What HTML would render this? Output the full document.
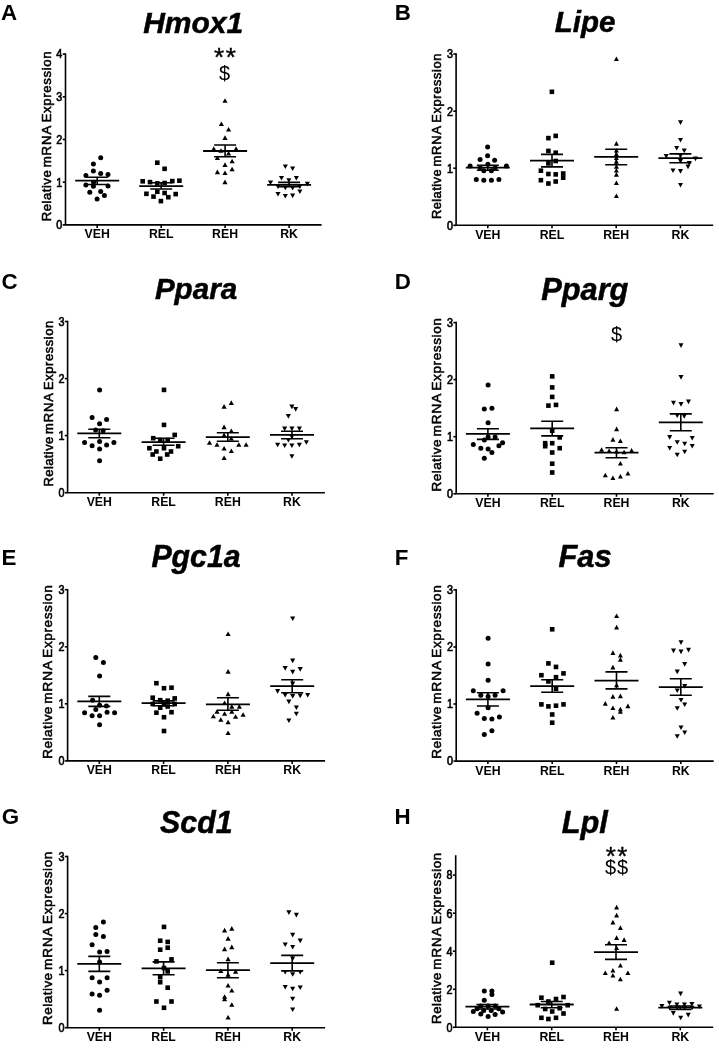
<!DOCTYPE html>
<html><head><meta charset="utf-8"><title>Figure</title>
<style>
html,body{margin:0;padding:0;background:#fff;}
body{width:719px;height:1050px;overflow:hidden;font-family:"Liberation Sans",sans-serif;}
svg{display:block;filter:grayscale(1);font-family:"Liberation Sans",sans-serif;}
.pl{font-size:21.7px;font-weight:bold;}
.tt{stroke:#000;stroke-width:0.5px;font-size:30px;font-weight:bold;font-style:italic;text-anchor:middle;}
.xl{font-size:12.3px;font-weight:bold;text-anchor:middle;}
.yl{font-size:13.3px;text-anchor:start;stroke:#000;stroke-width:0.55px;}
.tk{font-size:12px;text-anchor:end;stroke:#000;stroke-width:0.65px;}
.an{text-anchor:middle;}
.ax{stroke:#000;stroke-width:1.6;fill:none;}
.ml{stroke:#000;stroke-width:1.8;fill:none;}
.eb{stroke:#000;stroke-width:1.6;fill:none;}
</style></head><body>
<svg width="719" height="1050" viewBox="0 0 719 1050">
<rect width="719" height="1050" fill="#fff"/>
<g id="panelA">
<text class="pl" transform="translate(0.9,20.1) scale(1.03,1)">A</text>
<text class="tt" style="font-size:30px" transform="translate(193.2,32.8) scale(1,1.01)">Hmox1</text>
<path class="ax" d="M65.5 53.3V224.9H321.6"/>
<path class="ax" d="M62.7 224.9H65.5"/>
<text class="tk" transform="translate(62.3,229.2) scale(0.9,1)">0</text>
<path class="ax" d="M62.7 182.2H65.5"/>
<text class="tk" transform="translate(62.3,186.5) scale(0.9,1)">1</text>
<path class="ax" d="M62.7 139.5H65.5"/>
<text class="tk" transform="translate(62.3,143.8) scale(0.9,1)">2</text>
<path class="ax" d="M62.7 96.8H65.5"/>
<text class="tk" transform="translate(62.3,101.1) scale(0.9,1)">3</text>
<path class="ax" d="M62.7 54.1H65.5"/>
<text class="tk" transform="translate(62.3,58.4) scale(0.9,1)">4</text>
<path class="ax" d="M97.2 224.9v3"/>
<text class="xl" x="97.2" y="238.3">VEH</text>
<path class="ax" d="M161.2 224.9v3"/>
<text class="xl" x="161.2" y="238.3">REL</text>
<path class="ax" d="M225.1 224.9v3"/>
<text class="xl" x="225.1" y="238.3">REH</text>
<path class="ax" d="M289.1 224.9v3"/>
<text class="xl" x="289.1" y="238.3">RK</text>
<g class="yl" transform="translate(50.9,220.3) rotate(-90) scale(0.9953)"><text x="-0.9" textLength="51.2" lengthAdjust="spacing">Relative</text><text x="53.2" textLength="42.0" lengthAdjust="spacing">mRNA</text><text x="98.4" textLength="71.2" lengthAdjust="spacing">Expression</text></g>
<text class="an" style="font-size:26px;letter-spacing:1.5px;stroke:#000;stroke-width:0.4px" x="225.7" y="66.4">**</text>
<text class="an" style="font-size:20px;letter-spacing:0px;stroke:#000;stroke-width:0px" x="224.6" y="79.5">$</text>
<g><circle cx="100.7" cy="157.7" r="2.5"/><circle cx="93.4" cy="163.9" r="2.5"/><circle cx="93.4" cy="171.0" r="2.5"/><circle cx="100.7" cy="173.4" r="2.5"/><circle cx="108.0" cy="174.6" r="2.5"/><circle cx="85.9" cy="175.5" r="2.5"/><circle cx="85.9" cy="184.9" r="2.5"/><circle cx="93.6" cy="182.3" r="2.5"/><circle cx="93.4" cy="186.3" r="2.5"/><circle cx="108.0" cy="186.1" r="2.5"/><circle cx="89.8" cy="192.2" r="2.5"/><circle cx="100.7" cy="191.5" r="2.5"/><circle cx="104.4" cy="195.5" r="2.5"/><circle cx="97.1" cy="199.0" r="2.5"/></g>
<path class="ml" d="M75.2 180.7H119.2"/>
<path class="eb" d="M86.2 177.2H108.2M86.2 184.5H108.2M97.2 177.2V184.5"/>
<g><rect x="155.0" y="160.4" width="4.6" height="4.6"/><rect x="162.3" y="166.5" width="4.6" height="4.6"/><rect x="140.4" y="179.0" width="4.6" height="4.6"/><rect x="147.7" y="179.8" width="4.6" height="4.6"/><rect x="170.0" y="178.8" width="4.6" height="4.6"/><rect x="177.1" y="178.4" width="4.6" height="4.6"/><rect x="155.0" y="181.1" width="4.6" height="4.6"/><rect x="162.3" y="180.7" width="4.6" height="4.6"/><rect x="144.1" y="191.5" width="4.6" height="4.6"/><rect x="155.0" y="189.4" width="4.6" height="4.6"/><rect x="162.3" y="190.7" width="4.6" height="4.6"/><rect x="173.4" y="191.8" width="4.6" height="4.6"/><rect x="151.2" y="194.3" width="4.6" height="4.6"/><rect x="166.0" y="194.9" width="4.6" height="4.6"/><rect x="158.6" y="198.8" width="4.6" height="4.6"/></g>
<path class="ml" d="M139.2 186.1H183.2"/>
<path class="eb" d="M150.2 182.7H172.2M150.2 189H172.2M161.2 182.7V189"/>
<g><path d="M222.4 102.8L227.6 102.8L225.0 98.2Z"/><path d="M218.8 126.1L224.0 126.1L221.4 121.5Z"/><path d="M226.0 131.6L231.2 131.6L228.6 127.0Z"/><path d="M222.4 139.9L227.6 139.9L225.0 135.3Z"/><path d="M211.2 150.9L216.4 150.9L213.8 146.3Z"/><path d="M233.5 150.9L238.7 150.9L236.1 146.3Z"/><path d="M218.4 152.8L223.6 152.8L221.0 148.2Z"/><path d="M226.0 155.6L231.2 155.6L228.6 151.0Z"/><path d="M214.8 160.1L220.0 160.1L217.4 155.5Z"/><path d="M229.5 163.3L234.7 163.3L232.1 158.7Z"/><path d="M222.4 166.9L227.6 166.9L225.0 162.3Z"/><path d="M229.5 171.3L234.7 171.3L232.1 166.7Z"/><path d="M214.8 174.2L220.0 174.2L217.4 169.6Z"/><path d="M222.4 175.0L227.6 175.0L225.0 170.4Z"/><path d="M222.4 184.2L227.6 184.2L225.0 179.6Z"/></g>
<path class="ml" d="M203.1 151H247.1"/>
<path class="eb" d="M214.1 145H236.1M214.1 156.7H236.1M225.1 145V156.7"/>
<g><path d="M282.8 164.4L287.9 164.4L285.3 169.0Z"/><path d="M290.1 166.5L295.2 166.5L292.6 171.1Z"/><path d="M278.9 175.9L284.1 175.9L281.5 180.5Z"/><path d="M293.8 175.9L298.9 175.9L296.3 180.5Z"/><path d="M286.3 178.2L291.4 178.2L288.9 182.8Z"/><path d="M267.9 180.4L273.1 180.4L270.5 185.0Z"/><path d="M304.8 181.8L309.9 181.8L307.4 186.4Z"/><path d="M275.4 184.4L280.6 184.4L278.0 189.0Z"/><path d="M282.8 185.7L287.9 185.7L285.3 190.3Z"/><path d="M290.1 185.9L295.2 185.9L292.6 190.5Z"/><path d="M297.3 184.4L302.4 184.4L299.9 189.0Z"/><path d="M297.3 189.4L302.4 189.4L299.9 194.0Z"/><path d="M275.4 191.9L280.6 191.9L278.0 196.5Z"/><path d="M282.8 194.0L287.9 194.0L285.3 198.6Z"/><path d="M290.1 193.6L295.2 193.6L292.6 198.2Z"/></g>
<path class="ml" d="M267.1 184.9H311.1"/>
<path class="eb" d="M278.1 182.4H300.1M278.1 186.6H300.1M289.1 182.4V186.6"/>
</g>
<g id="panelB">
<text class="pl" transform="translate(394.7,20.2) scale(1.03,1)">B</text>
<text class="tt" style="font-size:29.5px" transform="translate(585,32.3) scale(1,1.01)">Lipe</text>
<path class="ax" d="M456.1 53.3V225.3H713.2"/>
<path class="ax" d="M453.3 225.3H456.1"/>
<text class="tk" transform="translate(452.9,229.6) scale(0.9,1)">0</text>
<path class="ax" d="M453.3 168.2H456.1"/>
<text class="tk" transform="translate(452.9,172.5) scale(0.9,1)">1</text>
<path class="ax" d="M453.3 111.2H456.1"/>
<text class="tk" transform="translate(452.9,115.5) scale(0.9,1)">2</text>
<path class="ax" d="M453.3 54.1H456.1"/>
<text class="tk" transform="translate(452.9,58.4) scale(0.9,1)">3</text>
<path class="ax" d="M487.8 225.3v3"/>
<text class="xl" x="487.8" y="238.7">VEH</text>
<path class="ax" d="M552.0 225.3v3"/>
<text class="xl" x="552.0" y="238.7">REL</text>
<path class="ax" d="M616.2 225.3v3"/>
<text class="xl" x="616.2" y="238.7">REH</text>
<path class="ax" d="M680.4 225.3v3"/>
<text class="xl" x="680.4" y="238.7">RK</text>
<g class="yl" transform="translate(441.4,218.2) rotate(-90) scale(0.9705)"><text x="-0.9" textLength="51.2" lengthAdjust="spacing">Relative</text><text x="53.2" textLength="42.0" lengthAdjust="spacing">mRNA</text><text x="98.4" textLength="71.2" lengthAdjust="spacing">Expression</text></g>
<g><circle cx="487.6" cy="146.9" r="2.5"/><circle cx="487.6" cy="155.7" r="2.5"/><circle cx="480.1" cy="159.4" r="2.5"/><circle cx="494.6" cy="160.2" r="2.5"/><circle cx="470.1" cy="165.9" r="2.5"/><circle cx="506.4" cy="165.9" r="2.5"/><circle cx="487.9" cy="164.2" r="2.5"/><circle cx="480.1" cy="167.7" r="2.5"/><circle cx="495.1" cy="167.7" r="2.5"/><circle cx="483.8" cy="170.7" r="2.5"/><circle cx="491.4" cy="170.7" r="2.5"/><circle cx="476.3" cy="179.5" r="2.5"/><circle cx="483.8" cy="180.2" r="2.5"/><circle cx="491.4" cy="180.2" r="2.5"/><circle cx="498.9" cy="179.5" r="2.5"/></g>
<path class="ml" d="M465.8 167.7H509.8"/>
<path class="eb" d="M476.8 165.2H498.8M476.8 170.2H498.8M487.8 165.2V170.2"/>
<g><rect x="549.6" y="89.5" width="4.6" height="4.6"/><rect x="546.1" y="135.8" width="4.6" height="4.6"/><rect x="553.4" y="133.6" width="4.6" height="4.6"/><rect x="546.1" y="148.6" width="4.6" height="4.6"/><rect x="553.4" y="150.4" width="4.6" height="4.6"/><rect x="553.4" y="158.7" width="4.6" height="4.6"/><rect x="546.1" y="161.1" width="4.6" height="4.6"/><rect x="538.6" y="168.4" width="4.6" height="4.6"/><rect x="546.1" y="171.7" width="4.6" height="4.6"/><rect x="553.4" y="172.1" width="4.6" height="4.6"/><rect x="560.9" y="171.2" width="4.6" height="4.6"/><rect x="560.9" y="175.4" width="4.6" height="4.6"/><rect x="538.6" y="177.9" width="4.6" height="4.6"/><rect x="553.4" y="179.2" width="4.6" height="4.6"/><rect x="546.1" y="181.2" width="4.6" height="4.6"/></g>
<path class="ml" d="M530.0 160.7H574.0"/>
<path class="eb" d="M541.0 154.4H563.0M541.0 166.9H563.0M552.0 154.4V166.9"/>
<g><path d="M613.9 61.1L618.9 61.1L616.4 56.5Z"/><path d="M613.9 145.7L618.9 145.7L616.4 141.1Z"/><path d="M613.9 152.5L618.9 152.5L616.4 147.9Z"/><path d="M613.9 156.2L618.9 156.2L616.4 151.6Z"/><path d="M613.9 160.0L618.9 160.0L616.4 155.4Z"/><path d="M613.9 163.7L618.9 163.7L616.4 159.1Z"/><path d="M613.9 168.7L618.9 168.7L616.4 164.1Z"/><path d="M613.9 172.5L618.9 172.5L616.4 167.9Z"/><path d="M613.9 176.7L618.9 176.7L616.4 172.1Z"/><path d="M613.9 185.0L618.9 185.0L616.4 180.4Z"/><path d="M613.9 198.0L618.9 198.0L616.4 193.4Z"/></g>
<path class="ml" d="M594.2 156.9H638.2"/>
<path class="eb" d="M605.2 149.2H627.2M605.2 164.7H627.2M616.2 149.2V164.7"/>
<g><path d="M678.0 120.3L683.0 120.3L680.5 124.9Z"/><path d="M678.0 137.9L683.0 137.9L680.5 142.5Z"/><path d="M674.2 145.9L679.2 145.9L676.7 150.5Z"/><path d="M681.7 148.6L686.8 148.6L684.2 153.2Z"/><path d="M663.7 154.1L668.8 154.1L666.2 158.7Z"/><path d="M678.0 153.4L683.0 153.4L680.5 158.0Z"/><path d="M693.0 156.6L698.0 156.6L695.5 161.2Z"/><path d="M678.0 159.1L683.0 159.1L680.5 163.7Z"/><path d="M686.7 161.1L691.8 161.1L689.2 165.7Z"/><path d="M685.5 164.6L690.5 164.6L688.0 169.2Z"/><path d="M670.5 168.4L675.5 168.4L673.0 173.0Z"/><path d="M678.0 169.1L683.0 169.1L680.5 173.7Z"/><path d="M678.0 182.9L683.0 182.9L680.5 187.5Z"/></g>
<path class="ml" d="M658.4 158.2H702.4"/>
<path class="eb" d="M669.4 153.9H691.4M669.4 162.7H691.4M680.4 153.9V162.7"/>
</g>
<g id="panelC">
<text class="pl" transform="translate(1.4,288.7) scale(1.03,1)">C</text>
<text class="tt" style="font-size:29.6px" transform="translate(196,299.2) scale(1,1.01)">Ppara</text>
<path class="ax" d="M67.6 320.7V492.7H324.9"/>
<path class="ax" d="M64.8 492.7H67.6"/>
<text class="tk" transform="translate(64.4,497.0) scale(0.9,1)">0</text>
<path class="ax" d="M64.8 435.6H67.6"/>
<text class="tk" transform="translate(64.4,439.9) scale(0.9,1)">1</text>
<path class="ax" d="M64.8 378.6H67.6"/>
<text class="tk" transform="translate(64.4,382.9) scale(0.9,1)">2</text>
<path class="ax" d="M64.8 321.5H67.6"/>
<text class="tk" transform="translate(64.4,325.8) scale(0.9,1)">3</text>
<path class="ax" d="M99.3 492.7v3"/>
<text class="xl" x="99.3" y="506.1">VEH</text>
<path class="ax" d="M163.6 492.7v3"/>
<text class="xl" x="163.6" y="506.1">REL</text>
<path class="ax" d="M227.8 492.7v3"/>
<text class="xl" x="227.8" y="506.1">REH</text>
<path class="ax" d="M292.0 492.7v3"/>
<text class="xl" x="292.0" y="506.1">RK</text>
<g class="yl" transform="translate(52.7,485.6) rotate(-90) scale(0.9716)"><text x="-0.9" textLength="51.2" lengthAdjust="spacing">Relative</text><text x="53.2" textLength="42.0" lengthAdjust="spacing">mRNA</text><text x="98.4" textLength="71.2" lengthAdjust="spacing">Expression</text></g>
<g><circle cx="99.6" cy="389.9" r="2.5"/><circle cx="92.1" cy="417.4" r="2.5"/><circle cx="106.6" cy="419.4" r="2.5"/><circle cx="99.6" cy="423.7" r="2.5"/><circle cx="95.6" cy="429.9" r="2.5"/><circle cx="103.1" cy="430.7" r="2.5"/><circle cx="84.6" cy="442.5" r="2.5"/><circle cx="99.6" cy="441.5" r="2.5"/><circle cx="113.9" cy="442.5" r="2.5"/><circle cx="92.1" cy="445.7" r="2.5"/><circle cx="106.6" cy="445.0" r="2.5"/><circle cx="99.6" cy="449.0" r="2.5"/><circle cx="99.6" cy="460.7" r="2.5"/></g>
<path class="ml" d="M77.3 433.4H121.3"/>
<path class="eb" d="M88.3 429.2H110.3M88.3 437.7H110.3M99.3 429.2V437.7"/>
<g><rect x="161.7" y="387.6" width="4.6" height="4.6"/><rect x="161.7" y="422.6" width="4.6" height="4.6"/><rect x="172.4" y="432.6" width="4.6" height="4.6"/><rect x="150.9" y="435.9" width="4.6" height="4.6"/><rect x="157.9" y="437.7" width="4.6" height="4.6"/><rect x="165.4" y="437.7" width="4.6" height="4.6"/><rect x="175.9" y="443.9" width="4.6" height="4.6"/><rect x="147.1" y="445.9" width="4.6" height="4.6"/><rect x="161.7" y="445.9" width="4.6" height="4.6"/><rect x="154.1" y="449.2" width="4.6" height="4.6"/><rect x="168.7" y="449.2" width="4.6" height="4.6"/><rect x="150.4" y="452.2" width="4.6" height="4.6"/><rect x="164.9" y="452.2" width="4.6" height="4.6"/><rect x="157.9" y="456.4" width="4.6" height="4.6"/></g>
<path class="ml" d="M141.6 442.2H185.6"/>
<path class="eb" d="M152.6 438.2H174.6M152.6 445.2H174.6M163.6 438.2V445.2"/>
<g><path d="M228.8 404.9L233.9 404.9L231.3 400.3Z"/><path d="M221.5 408.7L226.7 408.7L224.1 404.1Z"/><path d="M221.5 429.2L226.7 429.2L224.1 424.6Z"/><path d="M228.8 433.0L233.9 433.0L231.3 428.4Z"/><path d="M221.5 437.2L226.7 437.2L224.1 432.6Z"/><path d="M228.8 440.5L233.9 440.5L231.3 435.9Z"/><path d="M206.9 444.8L212.1 444.8L209.5 440.2Z"/><path d="M214.4 446.8L219.6 446.8L217.0 442.2Z"/><path d="M236.2 446.8L241.4 446.8L238.8 442.2Z"/><path d="M243.5 446.8L248.7 446.8L246.1 442.2Z"/><path d="M221.5 450.5L226.7 450.5L224.1 445.9Z"/><path d="M228.8 453.0L233.9 453.0L231.3 448.4Z"/><path d="M221.5 460.0L226.7 460.0L224.1 455.4Z"/></g>
<path class="ml" d="M205.8 437.2H249.8"/>
<path class="eb" d="M216.8 432.7H238.8M216.8 441.2H238.8M227.8 432.7V441.2"/>
<g><path d="M289.3 404.6L294.4 404.6L291.9 409.2Z"/><path d="M293.1 407.1L298.2 407.1L295.7 411.7Z"/><path d="M285.8 414.1L290.9 414.1L288.4 418.7Z"/><path d="M282.1 426.6L287.2 426.6L284.7 431.2Z"/><path d="M289.3 426.6L294.4 426.6L291.9 431.2Z"/><path d="M296.8 426.6L301.9 426.6L299.4 431.2Z"/><path d="M289.3 434.6L294.4 434.6L291.9 439.2Z"/><path d="M285.8 437.9L290.9 437.9L288.4 442.5Z"/><path d="M303.8 440.2L308.9 440.2L306.4 444.8Z"/><path d="M275.1 442.7L280.2 442.7L277.6 447.3Z"/><path d="M282.1 443.4L287.2 443.4L284.7 448.0Z"/><path d="M289.3 443.4L294.4 443.4L291.9 448.0Z"/><path d="M296.8 442.7L301.9 442.7L299.4 447.3Z"/><path d="M289.3 454.2L294.4 454.2L291.9 458.8Z"/></g>
<path class="ml" d="M270.0 434.9H314.0"/>
<path class="eb" d="M281.0 431.2H303.0M281.0 438.7H303.0M292.0 431.2V438.7"/>
</g>
<g id="panelD">
<text class="pl" transform="translate(394.7,288.9) scale(1.03,1)">D</text>
<text class="tt" style="font-size:30.8px" transform="translate(584.8,299.7) scale(1,1.01)">Pparg</text>
<path class="ax" d="M456.2 321.8V493.75H713.7"/>
<path class="ax" d="M453.4 493.8H456.2"/>
<text class="tk" transform="translate(453.0,498.1) scale(0.9,1)">0</text>
<path class="ax" d="M453.4 436.7H456.2"/>
<text class="tk" transform="translate(453.0,441.0) scale(0.9,1)">1</text>
<path class="ax" d="M453.4 379.6H456.2"/>
<text class="tk" transform="translate(453.0,383.9) scale(0.9,1)">2</text>
<path class="ax" d="M453.4 322.6H456.2"/>
<text class="tk" transform="translate(453.0,326.9) scale(0.9,1)">3</text>
<path class="ax" d="M487.9 493.75v3"/>
<text class="xl" x="487.9" y="507.1">VEH</text>
<path class="ax" d="M552.2 493.75v3"/>
<text class="xl" x="552.2" y="507.1">REL</text>
<path class="ax" d="M616.5 493.75v3"/>
<text class="xl" x="616.5" y="507.1">REH</text>
<path class="ax" d="M680.8 493.75v3"/>
<text class="xl" x="680.8" y="507.1">RK</text>
<g class="yl" transform="translate(440.8,490.6) rotate(-90) scale(1.0171)"><text x="-0.9" textLength="51.2" lengthAdjust="spacing">Relative</text><text x="53.2" textLength="42.0" lengthAdjust="spacing">mRNA</text><text x="98.4" textLength="71.2" lengthAdjust="spacing">Expression</text></g>
<text class="an" style="font-size:20px;letter-spacing:0px;stroke:#000;stroke-width:0px" x="616.6" y="340.6">$</text>
<g><circle cx="488.1" cy="384.9" r="2.5"/><circle cx="484.3" cy="408.9" r="2.5"/><circle cx="491.9" cy="408.2" r="2.5"/><circle cx="488.1" cy="422.7" r="2.5"/><circle cx="488.1" cy="436.9" r="2.5"/><circle cx="495.1" cy="436.9" r="2.5"/><circle cx="484.3" cy="440.0" r="2.5"/><circle cx="473.3" cy="444.5" r="2.5"/><circle cx="502.6" cy="442.7" r="2.5"/><circle cx="498.9" cy="445.7" r="2.5"/><circle cx="480.8" cy="448.2" r="2.5"/><circle cx="488.1" cy="449.0" r="2.5"/><circle cx="491.9" cy="452.5" r="2.5"/><circle cx="484.3" cy="458.2" r="2.5"/></g>
<path class="ml" d="M465.9 433.9H509.9"/>
<path class="eb" d="M476.9 428.7H498.9M476.9 439.4H498.9M487.9 428.7V439.4"/>
<g><rect x="549.9" y="374.1" width="4.6" height="4.6"/><rect x="549.9" y="385.1" width="4.6" height="4.6"/><rect x="549.9" y="394.6" width="4.6" height="4.6"/><rect x="546.1" y="403.3" width="4.6" height="4.6"/><rect x="553.7" y="402.6" width="4.6" height="4.6"/><rect x="549.9" y="428.4" width="4.6" height="4.6"/><rect x="557.4" y="435.1" width="4.6" height="4.6"/><rect x="542.9" y="440.9" width="4.6" height="4.6"/><rect x="549.9" y="440.9" width="4.6" height="4.6"/><rect x="542.9" y="443.9" width="4.6" height="4.6"/><rect x="557.4" y="445.9" width="4.6" height="4.6"/><rect x="549.9" y="450.2" width="4.6" height="4.6"/><rect x="549.9" y="461.4" width="4.6" height="4.6"/><rect x="549.9" y="470.2" width="4.6" height="4.6"/></g>
<path class="ml" d="M530.2 428.4H574.2"/>
<path class="eb" d="M541.2 421.2H563.2M541.2 435.9H563.2M552.2 421.2V435.9"/>
<g><path d="M614.1 411.2L619.1 411.2L616.6 406.6Z"/><path d="M614.1 431.2L619.1 431.2L616.6 426.6Z"/><path d="M610.4 441.7L615.4 441.7L612.9 437.1Z"/><path d="M617.9 443.0L622.9 443.0L620.4 438.4Z"/><path d="M599.1 451.8L604.1 451.8L601.6 447.2Z"/><path d="M629.1 452.5L634.1 452.5L631.6 447.9Z"/><path d="M606.6 453.0L611.6 453.0L609.1 448.4Z"/><path d="M614.1 453.5L619.1 453.5L616.6 448.9Z"/><path d="M621.6 454.3L626.6 454.3L624.1 449.7Z"/><path d="M617.9 465.5L622.9 465.5L620.4 460.9Z"/><path d="M625.4 475.5L630.4 475.5L627.9 470.9Z"/><path d="M602.8 477.3L607.8 477.3L605.3 472.7Z"/><path d="M617.9 478.5L622.9 478.5L620.4 473.9Z"/><path d="M610.4 480.0L615.4 480.0L612.9 475.4Z"/></g>
<path class="ml" d="M594.5 452.7H638.5"/>
<path class="eb" d="M605.5 447.7H627.5M605.5 457.7H627.5M616.5 447.7V457.7"/>
<g><path d="M678.5 343.3L683.5 343.3L681.0 347.9Z"/><path d="M678.5 375.1L683.5 375.1L681.0 379.7Z"/><path d="M671.0 400.8L676.0 400.8L673.5 405.4Z"/><path d="M678.5 402.1L683.5 402.1L681.0 406.7Z"/><path d="M686.0 399.6L691.0 399.6L688.5 404.2Z"/><path d="M674.7 413.4L679.8 413.4L677.2 418.0Z"/><path d="M681.7 414.1L686.8 414.1L684.2 418.7Z"/><path d="M667.2 435.1L672.2 435.1L669.7 439.7Z"/><path d="M689.7 435.9L694.8 435.9L692.2 440.5Z"/><path d="M674.7 440.2L679.8 440.2L677.2 444.8Z"/><path d="M682.2 441.7L687.2 441.7L684.7 446.3Z"/><path d="M689.7 443.9L694.8 443.9L692.2 448.5Z"/><path d="M667.2 445.9L672.2 445.9L669.7 450.5Z"/><path d="M682.2 449.7L687.2 449.7L684.7 454.3Z"/><path d="M674.7 452.7L679.8 452.7L677.2 457.3Z"/></g>
<path class="ml" d="M658.8 422.4H702.8"/>
<path class="eb" d="M669.8 413.9H691.8M669.8 430.7H691.8M680.8 413.9V430.7"/>
</g>
<g id="panelE">
<text class="pl" transform="translate(1.6,565.1) scale(1.03,1)">E</text>
<text class="tt" style="font-size:30.3px" transform="translate(196,567) scale(1,1.01)">Pgc1a</text>
<path class="ax" d="M67.6 588.9V760.9H325.1"/>
<path class="ax" d="M64.8 760.9H67.6"/>
<text class="tk" transform="translate(64.4,765.2) scale(0.9,1)">0</text>
<path class="ax" d="M64.8 703.8H67.6"/>
<text class="tk" transform="translate(64.4,708.1) scale(0.9,1)">1</text>
<path class="ax" d="M64.8 646.8H67.6"/>
<text class="tk" transform="translate(64.4,651.1) scale(0.9,1)">2</text>
<path class="ax" d="M64.8 589.7H67.6"/>
<text class="tk" transform="translate(64.4,594.0) scale(0.9,1)">3</text>
<path class="ax" d="M99.3 760.9v3"/>
<text class="xl" x="99.3" y="774.3">VEH</text>
<path class="ax" d="M163.6 760.9v3"/>
<text class="xl" x="163.6" y="774.3">REL</text>
<path class="ax" d="M227.9 760.9v3"/>
<text class="xl" x="227.9" y="774.3">REH</text>
<path class="ax" d="M292.2 760.9v3"/>
<text class="xl" x="292.2" y="774.3">RK</text>
<g class="yl" transform="translate(52.4,757.8) rotate(-90) scale(1.0177)"><text x="-0.9" textLength="51.2" lengthAdjust="spacing">Relative</text><text x="53.2" textLength="42.0" lengthAdjust="spacing">mRNA</text><text x="98.4" textLength="71.2" lengthAdjust="spacing">Expression</text></g>
<g><circle cx="95.8" cy="657.6" r="2.5"/><circle cx="103.4" cy="662.6" r="2.5"/><circle cx="99.6" cy="675.9" r="2.5"/><circle cx="92.6" cy="700.2" r="2.5"/><circle cx="99.6" cy="705.2" r="2.5"/><circle cx="106.4" cy="706.0" r="2.5"/><circle cx="95.8" cy="709.5" r="2.5"/><circle cx="84.6" cy="712.7" r="2.5"/><circle cx="107.1" cy="712.2" r="2.5"/><circle cx="114.6" cy="712.7" r="2.5"/><circle cx="92.1" cy="715.7" r="2.5"/><circle cx="99.6" cy="715.7" r="2.5"/><circle cx="99.6" cy="724.7" r="2.5"/></g>
<path class="ml" d="M77.3 701.4H121.3"/>
<path class="eb" d="M88.3 696.4H110.3M88.3 706.4H110.3M99.3 696.4V706.4"/>
<g><rect x="154.1" y="680.9" width="4.6" height="4.6"/><rect x="161.7" y="685.9" width="4.6" height="4.6"/><rect x="169.2" y="685.4" width="4.6" height="4.6"/><rect x="150.4" y="695.4" width="4.6" height="4.6"/><rect x="172.4" y="696.1" width="4.6" height="4.6"/><rect x="157.9" y="697.9" width="4.6" height="4.6"/><rect x="165.4" y="698.4" width="4.6" height="4.6"/><rect x="150.4" y="701.7" width="4.6" height="4.6"/><rect x="161.7" y="702.1" width="4.6" height="4.6"/><rect x="172.4" y="701.7" width="4.6" height="4.6"/><rect x="157.9" y="705.4" width="4.6" height="4.6"/><rect x="165.4" y="704.2" width="4.6" height="4.6"/><rect x="154.1" y="710.4" width="4.6" height="4.6"/><rect x="169.2" y="709.9" width="4.6" height="4.6"/><rect x="161.7" y="714.9" width="4.6" height="4.6"/><rect x="161.7" y="728.7" width="4.6" height="4.6"/></g>
<path class="ml" d="M141.6 703.2H185.6"/>
<path class="eb" d="M152.6 700.9H174.6M152.6 705.7H174.6M163.6 700.9V705.7"/>
<g><path d="M225.5 636.1L230.7 636.1L228.1 631.5Z"/><path d="M225.5 673.7L230.7 673.7L228.1 669.1Z"/><path d="M225.5 696.2L230.7 696.2L228.1 691.6Z"/><path d="M222.0 705.0L227.2 705.0L224.6 700.4Z"/><path d="M229.2 708.7L234.4 708.7L231.8 704.1Z"/><path d="M236.8 708.7L241.9 708.7L239.3 704.1Z"/><path d="M214.4 713.8L219.6 713.8L217.0 709.2Z"/><path d="M222.0 715.8L227.2 715.8L224.6 711.2Z"/><path d="M229.2 713.8L234.4 713.8L231.8 709.2Z"/><path d="M240.5 716.8L245.7 716.8L243.1 712.2Z"/><path d="M210.8 718.3L215.9 718.3L213.3 713.7Z"/><path d="M233.0 718.8L238.2 718.8L235.6 714.2Z"/><path d="M218.2 721.8L223.4 721.8L220.8 717.2Z"/><path d="M225.5 724.3L230.7 724.3L228.1 719.7Z"/><path d="M225.5 735.0L230.7 735.0L228.1 730.4Z"/></g>
<path class="ml" d="M205.9 704.4H249.9"/>
<path class="eb" d="M216.9 697.7H238.9M216.9 710.2H238.9M227.9 697.7V710.2"/>
<g><path d="M290.1 616.5L295.2 616.5L292.7 621.1Z"/><path d="M290.1 658.6L295.2 658.6L292.7 663.2Z"/><path d="M282.6 666.1L287.8 666.1L285.2 670.7Z"/><path d="M297.6 667.1L302.8 667.1L300.2 671.7Z"/><path d="M290.1 669.8L295.2 669.8L292.7 674.4Z"/><path d="M290.1 681.6L295.2 681.6L292.7 686.2Z"/><path d="M275.1 689.1L280.2 689.1L277.6 693.7Z"/><path d="M282.6 692.9L287.8 692.9L285.2 697.5Z"/><path d="M290.1 694.1L295.2 694.1L292.7 698.7Z"/><path d="M297.6 693.6L302.8 693.6L300.2 698.2Z"/><path d="M305.1 692.9L310.2 692.9L307.7 697.5Z"/><path d="M286.3 699.6L291.4 699.6L288.9 704.2Z"/><path d="M293.8 705.4L298.9 705.4L296.4 710.0Z"/><path d="M293.8 711.7L298.9 711.7L296.4 716.3Z"/><path d="M286.3 718.4L291.4 718.4L288.9 723.0Z"/></g>
<path class="ml" d="M270.2 686.2H314.2"/>
<path class="eb" d="M281.2 679.7H303.2M281.2 692.7H303.2M292.2 679.7V692.7"/>
</g>
<g id="panelF">
<text class="pl" transform="translate(394.7,565.1) scale(1.03,1)">F</text>
<text class="tt" style="font-size:30.8px" transform="translate(585,567) scale(1,1.01)">Fas</text>
<path class="ax" d="M456.2 589.1V761.1H713.7"/>
<path class="ax" d="M453.4 761.1H456.2"/>
<text class="tk" transform="translate(453.0,765.4) scale(0.9,1)">0</text>
<path class="ax" d="M453.4 704.0H456.2"/>
<text class="tk" transform="translate(453.0,708.3) scale(0.9,1)">1</text>
<path class="ax" d="M453.4 647.0H456.2"/>
<text class="tk" transform="translate(453.0,651.3) scale(0.9,1)">2</text>
<path class="ax" d="M453.4 589.9H456.2"/>
<text class="tk" transform="translate(453.0,594.2) scale(0.9,1)">3</text>
<path class="ax" d="M487.9 761.1v3"/>
<text class="xl" x="487.9" y="774.5">VEH</text>
<path class="ax" d="M552.2 761.1v3"/>
<text class="xl" x="552.2" y="774.5">REL</text>
<path class="ax" d="M616.5 761.1v3"/>
<text class="xl" x="616.5" y="774.5">REH</text>
<path class="ax" d="M680.8 761.1v3"/>
<text class="xl" x="680.8" y="774.5">RK</text>
<g class="yl" transform="translate(440.8,757.8) rotate(-90) scale(1.0177)"><text x="-0.9" textLength="51.2" lengthAdjust="spacing">Relative</text><text x="53.2" textLength="42.0" lengthAdjust="spacing">mRNA</text><text x="98.4" textLength="71.2" lengthAdjust="spacing">Expression</text></g>
<g><circle cx="488.1" cy="638.3" r="2.5"/><circle cx="488.1" cy="663.9" r="2.5"/><circle cx="488.1" cy="680.2" r="2.5"/><circle cx="473.3" cy="690.7" r="2.5"/><circle cx="503.1" cy="690.7" r="2.5"/><circle cx="480.8" cy="695.2" r="2.5"/><circle cx="488.1" cy="696.4" r="2.5"/><circle cx="495.1" cy="695.2" r="2.5"/><circle cx="488.1" cy="707.7" r="2.5"/><circle cx="477.1" cy="713.2" r="2.5"/><circle cx="499.4" cy="717.0" r="2.5"/><circle cx="484.3" cy="718.5" r="2.5"/><circle cx="491.9" cy="719.0" r="2.5"/><circle cx="491.9" cy="730.7" r="2.5"/><circle cx="484.3" cy="734.5" r="2.5"/></g>
<path class="ml" d="M465.9 699.4H509.9"/>
<path class="eb" d="M476.9 692.7H498.9M476.9 706H498.9M487.9 692.7V706"/>
<g><rect x="549.9" y="627.0" width="4.6" height="4.6"/><rect x="546.1" y="661.1" width="4.6" height="4.6"/><rect x="553.7" y="664.6" width="4.6" height="4.6"/><rect x="539.1" y="672.9" width="4.6" height="4.6"/><rect x="561.2" y="671.1" width="4.6" height="4.6"/><rect x="553.7" y="674.9" width="4.6" height="4.6"/><rect x="546.1" y="679.1" width="4.6" height="4.6"/><rect x="553.7" y="686.6" width="4.6" height="4.6"/><rect x="539.1" y="702.1" width="4.6" height="4.6"/><rect x="561.2" y="702.1" width="4.6" height="4.6"/><rect x="546.1" y="704.1" width="4.6" height="4.6"/><rect x="553.7" y="703.4" width="4.6" height="4.6"/><rect x="549.9" y="712.2" width="4.6" height="4.6"/><rect x="549.9" y="720.4" width="4.6" height="4.6"/></g>
<path class="ml" d="M530.2 686.2H574.2"/>
<path class="eb" d="M541.2 679.7H563.2M541.2 692.2H563.2M552.2 679.7V692.2"/>
<g><path d="M614.1 618.1L619.1 618.1L616.6 613.5Z"/><path d="M614.1 629.4L619.1 629.4L616.6 624.8Z"/><path d="M610.4 654.9L615.4 654.9L612.9 650.3Z"/><path d="M617.9 657.4L622.9 657.4L620.4 652.8Z"/><path d="M617.9 661.7L622.9 661.7L620.4 657.1Z"/><path d="M610.4 669.4L615.4 669.4L612.9 664.8Z"/><path d="M614.1 687.3L619.1 687.3L616.6 682.7Z"/><path d="M610.4 698.7L615.4 698.7L612.9 694.1Z"/><path d="M617.9 698.2L622.9 698.2L620.4 693.6Z"/><path d="M602.8 705.7L607.8 705.7L605.3 701.1Z"/><path d="M625.4 708.2L630.4 708.2L627.9 703.6Z"/><path d="M610.4 710.0L615.4 710.0L612.9 705.4Z"/><path d="M617.9 711.3L622.9 711.3L620.4 706.7Z"/><path d="M617.9 713.8L622.9 713.8L620.4 709.2Z"/><path d="M610.4 719.5L615.4 719.5L612.9 714.9Z"/></g>
<path class="ml" d="M594.5 680.7H638.5"/>
<path class="eb" d="M605.5 671.9H627.5M605.5 688.9H627.5M616.5 671.9V688.9"/>
<g><path d="M678.5 640.3L683.5 640.3L681.0 644.9Z"/><path d="M671.0 648.6L676.0 648.6L673.5 653.2Z"/><path d="M678.5 649.6L683.5 649.6L681.0 654.2Z"/><path d="M686.0 647.8L691.0 647.8L688.5 652.4Z"/><path d="M682.2 662.1L687.2 662.1L684.7 666.7Z"/><path d="M674.7 669.6L679.8 669.6L677.2 674.2Z"/><path d="M682.2 684.1L687.2 684.1L684.7 688.7Z"/><path d="M674.7 688.4L679.8 688.4L677.2 693.0Z"/><path d="M678.5 697.9L683.5 697.9L681.0 702.5Z"/><path d="M682.2 702.4L687.2 702.4L684.7 707.0Z"/><path d="M674.7 706.2L679.8 706.2L677.2 710.8Z"/><path d="M678.5 725.4L683.5 725.4L681.0 730.0Z"/><path d="M682.2 730.4L687.2 730.4L684.7 735.0Z"/><path d="M674.7 734.2L679.8 734.2L677.2 738.8Z"/></g>
<path class="ml" d="M658.8 687.2H702.8"/>
<path class="eb" d="M669.8 678.7H691.8M669.8 695.2H691.8M680.8 678.7V695.2"/>
</g>
<g id="panelG">
<text class="pl" transform="translate(1.7,824.3) scale(1.03,1)">G</text>
<text class="tt" style="font-size:30.3px" transform="translate(196.3,833.1) scale(1,1.01)">Scd1</text>
<path class="ax" d="M67.6 855.7V1027.7H325.1"/>
<path class="ax" d="M64.8 1027.7H67.6"/>
<text class="tk" transform="translate(64.4,1032.0) scale(0.9,1)">0</text>
<path class="ax" d="M64.8 970.6H67.6"/>
<text class="tk" transform="translate(64.4,974.9) scale(0.9,1)">1</text>
<path class="ax" d="M64.8 913.6H67.6"/>
<text class="tk" transform="translate(64.4,917.9) scale(0.9,1)">2</text>
<path class="ax" d="M64.8 856.5H67.6"/>
<text class="tk" transform="translate(64.4,860.8) scale(0.9,1)">3</text>
<path class="ax" d="M99.3 1027.7v3"/>
<text class="xl" x="99.3" y="1041.1">VEH</text>
<path class="ax" d="M163.6 1027.7v3"/>
<text class="xl" x="163.6" y="1041.1">REL</text>
<path class="ax" d="M227.9 1027.7v3"/>
<text class="xl" x="227.9" y="1041.1">REH</text>
<path class="ax" d="M292.2 1027.7v3"/>
<text class="xl" x="292.2" y="1041.1">RK</text>
<g class="yl" transform="translate(52.4,1024.0) rotate(-90) scale(1.0165)"><text x="-0.9" textLength="51.2" lengthAdjust="spacing">Relative</text><text x="53.2" textLength="42.0" lengthAdjust="spacing">mRNA</text><text x="98.4" textLength="71.2" lengthAdjust="spacing">Expression</text></g>
<g><circle cx="103.4" cy="921.9" r="2.5"/><circle cx="95.8" cy="927.6" r="2.5"/><circle cx="95.8" cy="934.4" r="2.5"/><circle cx="103.4" cy="936.4" r="2.5"/><circle cx="92.1" cy="944.7" r="2.5"/><circle cx="99.6" cy="951.9" r="2.5"/><circle cx="107.1" cy="951.4" r="2.5"/><circle cx="99.6" cy="961.9" r="2.5"/><circle cx="92.1" cy="977.7" r="2.5"/><circle cx="107.1" cy="977.7" r="2.5"/><circle cx="99.6" cy="982.0" r="2.5"/><circle cx="107.1" cy="990.2" r="2.5"/><circle cx="92.1" cy="994.0" r="2.5"/><circle cx="99.6" cy="995.2" r="2.5"/><circle cx="99.6" cy="1010.3" r="2.5"/></g>
<path class="ml" d="M77.3 963.9H121.3"/>
<path class="eb" d="M88.3 956.4H110.3M88.3 971.4H110.3M99.3 956.4V971.4"/>
<g><rect x="161.7" y="924.6" width="4.6" height="4.6"/><rect x="157.9" y="938.4" width="4.6" height="4.6"/><rect x="165.4" y="939.6" width="4.6" height="4.6"/><rect x="157.9" y="947.4" width="4.6" height="4.6"/><rect x="165.4" y="945.4" width="4.6" height="4.6"/><rect x="169.2" y="957.1" width="4.6" height="4.6"/><rect x="154.1" y="959.1" width="4.6" height="4.6"/><rect x="161.7" y="965.7" width="4.6" height="4.6"/><rect x="165.4" y="969.1" width="4.6" height="4.6"/><rect x="157.9" y="974.9" width="4.6" height="4.6"/><rect x="157.9" y="979.9" width="4.6" height="4.6"/><rect x="165.4" y="985.4" width="4.6" height="4.6"/><rect x="154.1" y="999.2" width="4.6" height="4.6"/><rect x="169.2" y="999.2" width="4.6" height="4.6"/><rect x="161.7" y="1005.5" width="4.6" height="4.6"/></g>
<path class="ml" d="M141.6 968.4H185.6"/>
<path class="eb" d="M152.6 961.9H174.6M152.6 974.7H174.6M163.6 961.9V974.7"/>
<g><path d="M229.2 930.7L234.4 930.7L231.8 926.1Z"/><path d="M222.0 932.4L227.2 932.4L224.6 927.8Z"/><path d="M225.5 940.7L230.7 940.7L228.1 936.1Z"/><path d="M229.2 949.2L234.4 949.2L231.8 944.6Z"/><path d="M222.0 951.2L227.2 951.2L224.6 946.6Z"/><path d="M225.5 961.2L230.7 961.2L228.1 956.6Z"/><path d="M218.2 973.0L223.4 973.0L220.8 968.4Z"/><path d="M233.0 973.7L238.2 973.7L235.6 969.1Z"/><path d="M225.5 976.8L230.7 976.8L228.1 972.2Z"/><path d="M225.5 987.5L230.7 987.5L228.1 982.9Z"/><path d="M229.2 992.5L234.4 992.5L231.8 987.9Z"/><path d="M222.0 998.8L227.2 998.8L224.6 994.2Z"/><path d="M222.0 1001.3L227.2 1001.3L224.6 996.7Z"/><path d="M229.2 1006.8L234.4 1006.8L231.8 1002.2Z"/><path d="M225.5 1019.6L230.7 1019.6L228.1 1015.0Z"/></g>
<path class="ml" d="M205.9 970.2H249.9"/>
<path class="eb" d="M216.9 962.7H238.9M216.9 977.7H238.9M227.9 962.7V977.7"/>
<g><path d="M286.3 910.3L291.4 910.3L288.9 914.9Z"/><path d="M293.8 912.8L298.9 912.8L296.4 917.4Z"/><path d="M290.1 932.8L295.2 932.8L292.7 937.4Z"/><path d="M297.6 938.6L302.8 938.6L300.2 943.2Z"/><path d="M282.6 942.4L287.8 942.4L285.2 947.0Z"/><path d="M290.1 944.9L295.2 944.9L292.7 949.5Z"/><path d="M290.1 956.6L295.2 956.6L292.7 961.2Z"/><path d="M282.6 969.9L287.8 969.9L285.2 974.5Z"/><path d="M297.6 969.9L302.8 969.9L300.2 974.5Z"/><path d="M290.1 972.2L295.2 972.2L292.7 976.8Z"/><path d="M282.6 984.9L287.8 984.9L285.2 989.5Z"/><path d="M290.1 986.7L295.2 986.7L292.7 991.3Z"/><path d="M297.6 985.4L302.8 985.4L300.2 990.0Z"/><path d="M290.1 996.7L295.2 996.7L292.7 1001.3Z"/><path d="M290.1 1007.5L295.2 1007.5L292.7 1012.1Z"/></g>
<path class="ml" d="M270.2 963.2H314.2"/>
<path class="eb" d="M281.2 955.4H303.2M281.2 970.9H303.2M292.2 955.4V970.9"/>
</g>
<g id="panelH">
<text class="pl" transform="translate(394.5,823.8) scale(1.03,1)">H</text>
<text class="tt" style="font-size:30.8px" transform="translate(584.8,832.7) scale(1,1.01)">Lpl</text>
<path class="ax" d="M455.7 855.3V1027.3H713.2"/>
<path class="ax" d="M452.9 1027.3H455.7"/>
<text class="tk" transform="translate(452.5,1031.6) scale(0.9,1)">0</text>
<path class="ax" d="M452.9 989.3H455.7"/>
<text class="tk" transform="translate(452.5,993.6) scale(0.9,1)">2</text>
<path class="ax" d="M452.9 951.2H455.7"/>
<text class="tk" transform="translate(452.5,955.5) scale(0.9,1)">4</text>
<path class="ax" d="M452.9 913.2H455.7"/>
<text class="tk" transform="translate(452.5,917.5) scale(0.9,1)">6</text>
<path class="ax" d="M452.9 875.1H455.7"/>
<text class="tk" transform="translate(452.5,879.4) scale(0.9,1)">8</text>
<path class="ax" d="M487.4 1027.3v3"/>
<text class="xl" x="487.4" y="1040.7">VEH</text>
<path class="ax" d="M551.7 1027.3v3"/>
<text class="xl" x="551.7" y="1040.7">REL</text>
<path class="ax" d="M616.0 1027.3v3"/>
<text class="xl" x="616.0" y="1040.7">REH</text>
<path class="ax" d="M680.3 1027.3v3"/>
<text class="xl" x="680.3" y="1040.7">RK</text>
<g class="yl" transform="translate(440.5,1023.0) rotate(-90) scale(1.0035)"><text x="-0.9" textLength="51.2" lengthAdjust="spacing">Relative</text><text x="53.2" textLength="42.0" lengthAdjust="spacing">mRNA</text><text x="98.4" textLength="71.2" lengthAdjust="spacing">Expression</text></g>
<text class="an" style="font-size:26px;letter-spacing:1.5px;stroke:#000;stroke-width:0.4px" x="617.3" y="865.2">**</text>
<text class="an" style="font-size:20px;letter-spacing:1.0px;stroke:#000;stroke-width:0px" x="617.1" y="874.3">$$</text>
<g><circle cx="484.3" cy="991.0" r="2.5"/><circle cx="491.9" cy="991.0" r="2.5"/><circle cx="491.9" cy="994.5" r="2.5"/><circle cx="484.3" cy="1000.2" r="2.5"/><circle cx="480.8" cy="1006.0" r="2.5"/><circle cx="488.1" cy="1006.0" r="2.5"/><circle cx="495.1" cy="1006.0" r="2.5"/><circle cx="473.3" cy="1011.5" r="2.5"/><circle cx="502.6" cy="1012.0" r="2.5"/><circle cx="477.1" cy="1008.8" r="2.5"/><circle cx="483.7" cy="1010.5" r="2.5"/><circle cx="491.2" cy="1010.5" r="2.5"/><circle cx="498.9" cy="1008.8" r="2.5"/><circle cx="480.8" cy="1014.0" r="2.5"/><circle cx="495.1" cy="1014.5" r="2.5"/><circle cx="488.1" cy="1016.5" r="2.5"/></g>
<path class="ml" d="M465.4 1006.7H509.4"/>
<path class="eb" d="M476.4 1004.5H498.4M476.4 1009H498.4M487.4 1004.5V1009"/>
<g><rect x="549.9" y="960.4" width="4.6" height="4.6"/><rect x="539.1" y="995.4" width="4.6" height="4.6"/><rect x="561.2" y="994.7" width="4.6" height="4.6"/><rect x="553.7" y="996.7" width="4.6" height="4.6"/><rect x="546.1" y="999.2" width="4.6" height="4.6"/><rect x="535.4" y="1002.9" width="4.6" height="4.6"/><rect x="565.4" y="1002.9" width="4.6" height="4.6"/><rect x="542.9" y="1006.7" width="4.6" height="4.6"/><rect x="557.4" y="1005.9" width="4.6" height="4.6"/><rect x="549.9" y="1009.2" width="4.6" height="4.6"/><rect x="561.2" y="1011.2" width="4.6" height="4.6"/><rect x="539.1" y="1015.5" width="4.6" height="4.6"/><rect x="553.7" y="1015.5" width="4.6" height="4.6"/><rect x="546.1" y="1016.7" width="4.6" height="4.6"/></g>
<path class="ml" d="M529.7 1004.5H573.7"/>
<path class="eb" d="M540.7 1001.5H562.7M540.7 1007.7H562.7M551.7 1001.5V1007.7"/>
<g><path d="M614.1 909.4L619.1 909.4L616.6 904.8Z"/><path d="M614.1 917.4L619.1 917.4L616.6 912.8Z"/><path d="M610.4 924.4L615.4 924.4L612.9 919.8Z"/><path d="M617.9 929.9L622.9 929.9L620.4 925.3Z"/><path d="M614.1 939.9L619.1 939.9L616.6 935.3Z"/><path d="M621.6 941.9L626.6 941.9L624.1 937.3Z"/><path d="M606.6 945.0L611.6 945.0L609.1 940.4Z"/><path d="M614.1 950.0L619.1 950.0L616.6 945.4Z"/><path d="M617.9 967.5L622.9 967.5L620.4 962.9Z"/><path d="M610.4 972.5L615.4 972.5L612.9 967.9Z"/><path d="M602.8 975.0L607.8 975.0L605.3 970.4Z"/><path d="M625.4 975.0L630.4 975.0L627.9 970.4Z"/><path d="M610.4 977.5L615.4 977.5L612.9 972.9Z"/><path d="M617.9 981.3L622.9 981.3L620.4 976.7Z"/><path d="M614.1 1010.8L619.1 1010.8L616.6 1006.2Z"/></g>
<path class="ml" d="M594.0 952.2H638.0"/>
<path class="eb" d="M605.0 944.7H627.0M605.0 959.4H627.0M616.0 944.7V959.4"/>
<g><path d="M678.1 991.6L683.1 991.6L680.6 996.2Z"/><path d="M666.9 1000.7L671.9 1000.7L669.4 1005.3Z"/><path d="M689.4 1002.1L694.4 1002.1L691.9 1006.7Z"/><path d="M674.4 1002.5L679.4 1002.5L676.9 1007.1Z"/><path d="M681.9 1002.5L686.9 1002.5L684.4 1007.1Z"/><path d="M659.4 1004.1L664.4 1004.1L661.9 1008.7Z"/><path d="M696.9 1004.4L701.9 1004.4L699.4 1009.0Z"/><path d="M670.8 1011.1L675.8 1011.1L673.3 1015.7Z"/><path d="M685.7 1012.8L690.8 1012.8L688.2 1017.4Z"/><path d="M678.2 1015.7L683.2 1015.7L680.7 1020.3Z"/><path d="M674.7 1005.7L679.8 1005.7L677.2 1010.3Z"/><path d="M682.2 1005.7L687.2 1005.7L684.7 1010.3Z"/><path d="M667.2 1005.7L672.2 1005.7L669.7 1010.3Z"/><path d="M689.5 1005.7L694.5 1005.7L692.0 1010.3Z"/></g>
<path class="ml" d="M658.3 1007.7H702.3"/>
<path class="eb" d="M669.3 1006H691.3M669.3 1009.5H691.3M680.3 1006V1009.5"/>
</g>
</svg></body></html>
